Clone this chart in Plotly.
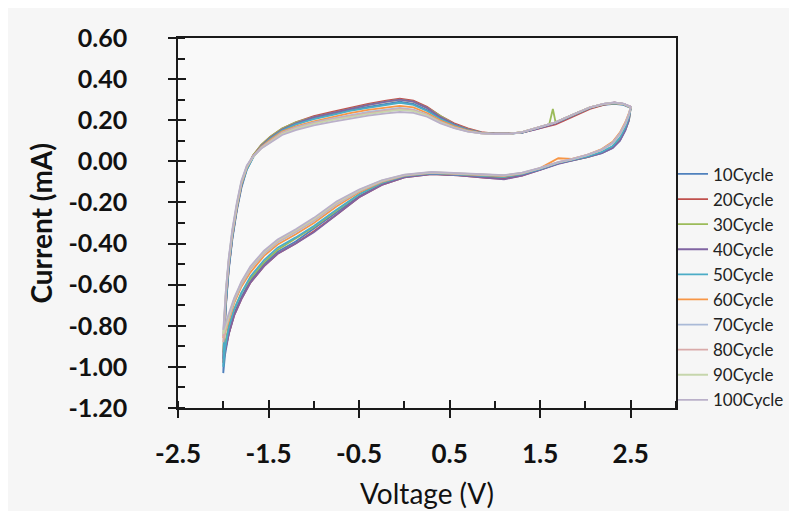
import plotly.graph_objects as go

# Voltage sweep (V): forward branch -2.0 -> 2.5, then reverse 2.5 -> -2.0
voltage = [-2.00, -1.99, -1.97, -1.94, -1.90, -1.85, -1.80, -1.74, -1.67, -1.58, -1.48, -1.35, -1.20,
           -1.00, -0.80, -0.60, -0.40, -0.20, -0.05, 0.10, 0.25, 0.40, 0.55, 0.70, 0.85, 1.00, 1.15,
           1.30, 1.45, 1.60, 1.64, 1.67, 1.75, 1.90, 2.05, 2.20, 2.32, 2.42, 2.50,
           2.48, 2.44, 2.38, 2.30, 2.18, 2.02, 1.85, 1.70, 1.50, 1.30, 1.10, 0.90, 0.60, 0.30, 0.00,
           -0.25, -0.50, -0.75, -1.00, -1.20, -1.40, -1.55, -1.70, -1.80, -1.88, -1.94, -1.98, -2.00]

# Current (mA) per cycle
c10 = [-1.03, -0.86, -0.70, -0.53, -0.38, -0.24, -0.13, -0.04, 0.02, 0.07, 0.11, 0.15, 0.18, 0.21, 0.23, 0.25, 0.265, 0.28, 0.29, 0.28, 0.25, 0.21, 0.18, 0.155, 0.14, 0.135, 0.135, 0.14, 0.16, 0.18, 0.185, 0.19, 0.205, 0.235, 0.26, 0.275, 0.28, 0.275, 0.26,
       0.20, 0.15, 0.10, 0.065, 0.04, 0.02, 0.005, -0.01, -0.04, -0.065, -0.08, -0.075, -0.065, -0.06, -0.075, -0.11, -0.17, -0.25, -0.33, -0.39, -0.44, -0.50, -0.58, -0.66, -0.74, -0.84, -0.94, -1.03]
c20 = [-0.98, -0.84, -0.69, -0.52, -0.37, -0.23, -0.12, -0.03, 0.03, 0.08, 0.12, 0.16, 0.19, 0.22, 0.24, 0.26, 0.28, 0.295, 0.305, 0.295, 0.265, 0.22, 0.185, 0.16, 0.142, 0.135, 0.135, 0.14, 0.155, 0.17, 0.175, 0.18, 0.195, 0.225, 0.255, 0.275, 0.285, 0.28, 0.265,
       0.21, 0.16, 0.11, 0.07, 0.045, 0.022, 0.006, -0.01, -0.04, -0.07, -0.085, -0.08, -0.068, -0.062, -0.078, -0.115, -0.175, -0.26, -0.34, -0.40, -0.45, -0.51, -0.59, -0.67, -0.75, -0.84, -0.92, -0.98]
c30 = [-0.93, -0.80, -0.66, -0.50, -0.36, -0.22, -0.11, -0.03, 0.03, 0.08, 0.12, 0.16, 0.19, 0.215, 0.235, 0.255, 0.275, 0.29, 0.30, 0.29, 0.26, 0.22, 0.18, 0.157, 0.14, 0.135, 0.135, 0.142, 0.16, 0.18, 0.255, 0.19, 0.205, 0.235, 0.262, 0.278, 0.283, 0.278, 0.262,
       0.20, 0.155, 0.105, 0.068, 0.042, 0.02, 0.005, -0.008, -0.038, -0.062, -0.075, -0.07, -0.062, -0.058, -0.072, -0.105, -0.16, -0.24, -0.32, -0.375, -0.43, -0.49, -0.57, -0.64, -0.72, -0.80, -0.88, -0.93]
c40 = [-0.96, -0.83, -0.68, -0.52, -0.37, -0.23, -0.12, -0.035, 0.025, 0.075, 0.115, 0.155, 0.185, 0.215, 0.235, 0.255, 0.275, 0.29, 0.30, 0.29, 0.26, 0.215, 0.18, 0.156, 0.14, 0.135, 0.135, 0.14, 0.155, 0.175, 0.18, 0.185, 0.20, 0.23, 0.26, 0.28, 0.287, 0.28, 0.265,
       0.20, 0.15, 0.10, 0.065, 0.04, 0.02, 0.004, -0.012, -0.042, -0.07, -0.088, -0.08, -0.068, -0.062, -0.078, -0.115, -0.175, -0.26, -0.345, -0.40, -0.45, -0.51, -0.59, -0.67, -0.75, -0.84, -0.92, -0.96]
c50 = [-1.00, -0.85, -0.69, -0.52, -0.37, -0.23, -0.12, -0.04, 0.02, 0.07, 0.11, 0.15, 0.18, 0.205, 0.225, 0.245, 0.26, 0.275, 0.285, 0.275, 0.245, 0.205, 0.175, 0.152, 0.138, 0.133, 0.134, 0.14, 0.158, 0.178, 0.183, 0.188, 0.203, 0.233, 0.26, 0.277, 0.282, 0.277, 0.262,
       0.215, 0.165, 0.115, 0.075, 0.046, 0.024, 0.007, -0.008, -0.038, -0.062, -0.076, -0.072, -0.063, -0.058, -0.072, -0.105, -0.16, -0.235, -0.315, -0.37, -0.42, -0.48, -0.56, -0.64, -0.72, -0.81, -0.91, -1.00]
c60 = [-0.86, -0.76, -0.64, -0.49, -0.35, -0.22, -0.11, -0.03, 0.025, 0.07, 0.105, 0.145, 0.17, 0.195, 0.215, 0.235, 0.25, 0.262, 0.27, 0.262, 0.235, 0.198, 0.17, 0.15, 0.137, 0.133, 0.134, 0.142, 0.16, 0.18, 0.185, 0.19, 0.205, 0.235, 0.262, 0.278, 0.283, 0.278, 0.262,
       0.235, 0.19, 0.14, 0.095, 0.06, 0.032, 0.012, 0.015, -0.033, -0.058, -0.072, -0.068, -0.06, -0.056, -0.07, -0.10, -0.15, -0.22, -0.30, -0.355, -0.405, -0.46, -0.54, -0.61, -0.69, -0.77, -0.83, -0.86]
c70 = [-0.85, -0.75, -0.63, -0.48, -0.34, -0.21, -0.10, -0.025, 0.025, 0.068, 0.10, 0.14, 0.165, 0.19, 0.208, 0.225, 0.24, 0.252, 0.26, 0.252, 0.228, 0.192, 0.165, 0.147, 0.136, 0.133, 0.134, 0.142, 0.16, 0.18, 0.185, 0.19, 0.206, 0.236, 0.263, 0.279, 0.284, 0.279, 0.263,
       0.225, 0.18, 0.13, 0.088, 0.055, 0.03, 0.01, -0.005, -0.034, -0.058, -0.07, -0.066, -0.059, -0.055, -0.068, -0.098, -0.145, -0.21, -0.29, -0.345, -0.395, -0.45, -0.525, -0.60, -0.68, -0.76, -0.82, -0.85]
c80 = [-0.88, -0.77, -0.64, -0.49, -0.35, -0.215, -0.105, -0.028, 0.022, 0.065, 0.098, 0.137, 0.162, 0.186, 0.204, 0.22, 0.235, 0.247, 0.255, 0.248, 0.225, 0.19, 0.164, 0.146, 0.136, 0.133, 0.134, 0.142, 0.16, 0.18, 0.185, 0.19, 0.206, 0.236, 0.263, 0.279, 0.285, 0.28, 0.264,
       0.23, 0.185, 0.135, 0.09, 0.057, 0.031, 0.011, -0.004, -0.033, -0.057, -0.069, -0.065, -0.058, -0.054, -0.067, -0.096, -0.142, -0.205, -0.285, -0.34, -0.39, -0.445, -0.52, -0.595, -0.675, -0.76, -0.83, -0.88]
c90 = [-0.84, -0.74, -0.62, -0.48, -0.34, -0.21, -0.10, -0.025, 0.022, 0.063, 0.095, 0.133, 0.158, 0.182, 0.20, 0.216, 0.23, 0.242, 0.25, 0.244, 0.222, 0.188, 0.163, 0.146, 0.136, 0.133, 0.134, 0.142, 0.16, 0.18, 0.185, 0.19, 0.206, 0.236, 0.263, 0.279, 0.285, 0.28, 0.264,
       0.228, 0.182, 0.132, 0.089, 0.056, 0.03, 0.01, -0.005, -0.033, -0.056, -0.068, -0.064, -0.057, -0.053, -0.066, -0.094, -0.14, -0.20, -0.28, -0.335, -0.385, -0.44, -0.515, -0.59, -0.67, -0.75, -0.81, -0.84]
c100 = [-0.82, -0.74, -0.62, -0.47, -0.33, -0.20, -0.095, -0.02, 0.025, 0.062, 0.092, 0.128, 0.152, 0.175, 0.192, 0.208, 0.222, 0.233, 0.24, 0.236, 0.217, 0.185, 0.161, 0.145, 0.136, 0.133, 0.134, 0.142, 0.16, 0.18, 0.185, 0.19, 0.206, 0.236, 0.263, 0.28, 0.286, 0.281, 0.265,
        0.23, 0.185, 0.135, 0.09, 0.057, 0.031, 0.011, -0.004, -0.032, -0.055, -0.067, -0.063, -0.056, -0.052, -0.065, -0.092, -0.137, -0.195, -0.275, -0.33, -0.38, -0.435, -0.51, -0.585, -0.665, -0.745, -0.80, -0.82]

cycle_names = ["10Cycle", "20Cycle", "30Cycle", "40Cycle", "50Cycle",
               "60Cycle", "70Cycle", "80Cycle", "90Cycle", "100Cycle"]
cycle_currents = [c10, c20, c30, c40, c50, c60, c70, c80, c90, c100]
colors = ["#4F81BD", "#C0504D", "#9BBB59", "#8064A2", "#4BACC6",
          "#F79646", "#AABAD7", "#D9AAA9", "#C6D6AC", "#BAB0C9"]

# tick labels (hyphen minus, as in the original)
x_tickvals = [-2.5, -1.5, -0.5, 0.5, 1.5, 2.5]
x_ticktext = ["-2.5", "-1.5", "-0.5", "0.5", "1.5", "2.5"]
y_tickvals = [0.6, 0.4, 0.2, 0.0, -0.2, -0.4, -0.6, -0.8, -1.0, -1.2]
y_ticktext = ["0.60", "0.40", "0.20", "0.00", "-0.20", "-0.40", "-0.60", "-0.80", "-1.00", "-1.20"]

for arr in cycle_currents:
    assert len(arr) == len(voltage), len(arr)

fig = go.Figure()
for name, cur, col in zip(cycle_names, cycle_currents, colors):
    fig.add_trace(go.Scatter(x=voltage, y=cur, mode="lines", name=name,
                             line=dict(color=col, width=1.8), hoverinfo="skip"))

# dummy trace for the overlay axes (inner half of crossing major ticks)
fig.add_trace(go.Scatter(x=[None], y=[None], xaxis="x2", yaxis="y2",
                         showlegend=False, hoverinfo="skip"))

axis_color = "#1a1a1a"
tick_font = dict(family="Lato", size=25, color="#111111", weight="bold")

fig.update_layout(
    width=797, height=511,
    margin=dict(l=170, r=129, t=30, b=111),
    paper_bgcolor="#f6f6f6",
    plot_bgcolor="#f9f9f9",
    showlegend=True,
    legend=dict(x=0.994, y=0.68, xanchor="left", yanchor="top",
                font=dict(family="Lato", size=17, color="#222222"),
                bgcolor="rgba(0,0,0,0)", borderwidth=0,
                itemwidth=30, tracegroupgap=0),
    xaxis=dict(range=[-2.5, 3.0], tickmode="array", tickvals=x_tickvals, ticktext=x_ticktext,
               ticks="outside", ticklen=8,
               tickwidth=1.5, tickcolor=axis_color, showline=True, linecolor=axis_color,
               linewidth=1.5, mirror=True, showgrid=False, zeroline=False,
               tickfont=dict(family="Lato", size=26, color="#111111", weight="bold"),
               ticklabelstandoff=14,
               minor=dict(ticks="inside", ticklen=7, dtick=0.5, tick0=-2.5,
                          tickcolor=axis_color, tickwidth=1.5, showgrid=False)),
    yaxis=dict(range=[-1.2, 0.6], tickmode="array", tickvals=y_tickvals, ticktext=y_ticktext,
               ticks="outside", ticklen=8,
               tickwidth=1.5, tickcolor=axis_color, showline=True, linecolor=axis_color,
               linewidth=1.5, mirror=True, showgrid=False, zeroline=False,
               tickfont=tick_font, ticklabelstandoff=36,
               minor=dict(ticks="inside", ticklen=7, dtick=0.1, tick0=-1.2,
                          tickcolor=axis_color, tickwidth=1.5, showgrid=False)),
    xaxis2=dict(range=[-2.5, 3.0], tickmode="array", tickvals=x_tickvals, ticks="inside", ticklen=8,
                tickwidth=1.5, tickcolor=axis_color, overlaying="x", anchor="y2",
                side="bottom", showticklabels=False, showgrid=False, zeroline=False,
                showline=False),
    yaxis2=dict(range=[-1.2, 0.6], tickmode="array", tickvals=y_tickvals, ticks="inside", ticklen=8,
                tickwidth=1.5, tickcolor=axis_color, overlaying="y", anchor="x2",
                side="left", showticklabels=False, showgrid=False, zeroline=False,
                showline=False),
    annotations=[
        dict(text="Voltage (V)", xref="paper", yref="paper", x=0.5, y=-0.23,
             xanchor="center", yanchor="middle", showarrow=False,
             font=dict(family="Lato", size=28, color="#111111")),
        dict(text="Current (mA)", xref="paper", yref="paper", x=-0.276, y=0.5,
             xanchor="center", yanchor="middle", showarrow=False, textangle=-90,
             font=dict(family="Lato", size=28, color="#111111", weight="bold")),
    ],
)

fig.write_html("out.html")
